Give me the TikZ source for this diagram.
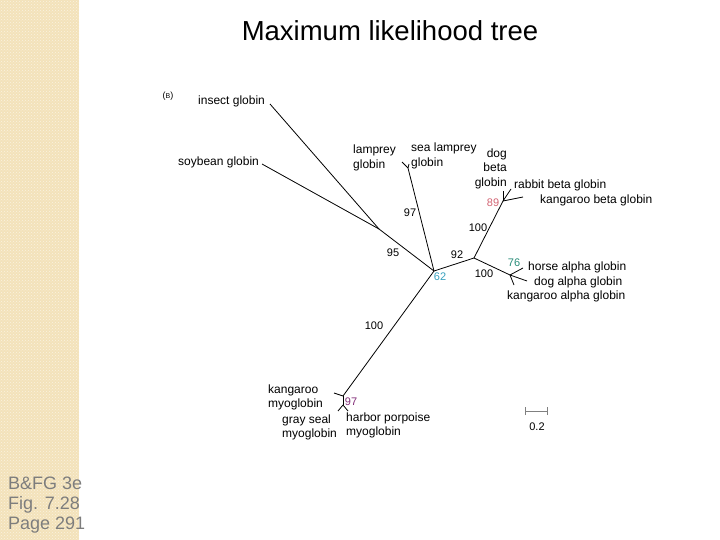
\documentclass[tikz,border=0pt]{standalone}
\usepackage{fontspec}
\setmainfont{Liberation Sans}
\usetikzlibrary{patterns}
\definecolor{stripe}{RGB}{243,226,186}
\definecolor{sidegray}{RGB}{125,125,125}
\definecolor{bootred}{RGB}{210,100,115}
\definecolor{bootcyan}{RGB}{55,160,190}
\definecolor{bootgreen}{RGB}{40,140,120}
\definecolor{bootpurple}{RGB}{130,45,120}
\begin{document}
\begin{tikzpicture}[x=1pt,y=-1pt,
  every node/.style={inner sep=0pt},
  taxon/.style={font=\fontsize{12}{14.5}\selectfont},
  boot/.style={font=\fontsize{11}{13}\selectfont},
  branch/.style={line width=0.8pt}]
\useasboundingbox (0,0) rectangle (720,540);
% side stripe
\fill[stripe] (0,0) rectangle (79,540);
\fill[pattern=crosshatch dots, pattern color=white!55!stripe] (0,0) rectangle (79,540);
\node[anchor=west, align=left, text=sidegray, font=\fontsize{18}{20}\selectfont] (src) at (8,505) {B\&FG 3e\\Fig. 7.28\\Page 291};
\node[font=\fontsize{27.5}{30}\selectfont] (title) at (390,31) {Maximum likelihood tree};
\node[font=\fontsize{9}{10}\selectfont] (panel) at (168,96) {({\fontsize{7}{8}\selectfont B})};
% junctions and tips
\coordinate (j1) at (379,229);
\coordinate (c) at (434,271);
\coordinate (lam) at (408,168);
\coordinate (lamT) at (402,162);
\coordinate (seaT) at (409,164);
\coordinate (ba) at (474,258);
\coordinate (bn) at (503,201);
\coordinate (dogBT) at (503,191);
\coordinate (rabT) at (511,189);
\coordinate (kanBT) at (523,197);
\coordinate (an) at (510,275);
\coordinate (horT) at (523,268);
\coordinate (dogAT) at (527,281);
\coordinate (kanAT) at (514,285);
\coordinate (m1) at (343,396);
\coordinate (kanMT) at (334,393);
\coordinate (m2) at (343,405);
\coordinate (sealT) at (338,411);
\coordinate (porT) at (348,411);
\coordinate (insT) at (270,104);
\coordinate (soyT) at (262,164);
% taxa
\node[taxon, anchor=west] (insect) at (198,101) {insect globin};
\node[taxon, anchor=west] (soy) at (178,162) {soybean globin};
\node[taxon, anchor=west, align=left] (lamprey) at (353,158) {lamprey\\globin};
\node[taxon, anchor=west, align=left] (sealamprey) at (411,156) {sea lamprey\\globin};
\node[taxon, anchor=east, align=right] (dogbeta) at (507,168.5) {dog\\beta\\globin};
\node[taxon, anchor=west] (rabbit) at (514,185) {rabbit beta globin};
\node[taxon, anchor=west] (kangbeta) at (540,200) {kangaroo beta globin};
\node[taxon, anchor=west] (horse) at (528,267) {horse alpha globin};
\node[taxon, anchor=west] (dogalpha) at (534,282) {dog alpha globin};
\node[taxon, anchor=west] (kangalpha) at (507,296) {kangaroo alpha globin};
\node[taxon, anchor=west, align=left] (kangmyo) at (268,397.5) {kangaroo\\myoglobin};
\node[taxon, anchor=west, align=left] (seal) at (282,427.5) {gray seal\\myoglobin};
\node[taxon, anchor=west, align=left] (porpoise) at (346,425.5) {harbor porpoise\\myoglobin};
% branches
\draw[branch] (insT) -- (j1);
\draw[branch] (soyT) -- (j1);
\draw[branch] (j1) -- (c);
\draw[branch] (c) -- (lam) -- (lamT);
\draw[branch] (lam) -- (seaT);
\draw[branch] (c) -- (ba);
\draw[branch] (ba) -- (bn);
\draw[branch] (bn) -- (dogBT);
\draw[branch] (bn) -- (rabT);
\draw[branch] (bn) -- (kanBT);
\draw[branch] (ba) -- (an);
\draw[branch] (an) -- (horT);
\draw[branch] (an) -- (dogAT);
\draw[branch] (an) -- (kanAT);
\draw[branch] (c) -- (m1);
\draw[branch] (m1) -- (kanMT);
\draw[branch] (m1) -- (m2);
\draw[branch] (m2) -- (sealT);
\draw[branch] (m2) -- (porT);
% bootstrap values
\node[boot] (b97a) at (410,213) {97};
\node[boot] (b95) at (393,253) {95};
\node[boot, text=bootcyan] (b62) at (440,277) {62};
\node[boot] (b92) at (457,255) {92};
\node[boot] (b100a) at (478,228) {100};
\node[boot, text=bootred] (b89) at (493,203) {89};
\node[boot] (b100b) at (484,274) {100};
\node[boot, text=bootgreen] (b76) at (514,263) {76};
\node[boot] (b100c) at (374,326) {100};
\node[boot, text=bootpurple] (b97b) at (351,402) {97};
% scale bar
\coordinate (sb1) at (525,411);
\coordinate (sb2) at (547,411);
\draw[gray, line width=0.8pt] (sb1) -- (sb2);
\draw[gray, line width=0.8pt] ([yshift=-4pt]sb1) -- ([yshift=4pt]sb1);
\draw[gray, line width=0.8pt] ([yshift=-4pt]sb2) -- ([yshift=4pt]sb2);
\node[boot] (scale) at (537,427) {0.2};
\end{tikzpicture}
\end{document}
